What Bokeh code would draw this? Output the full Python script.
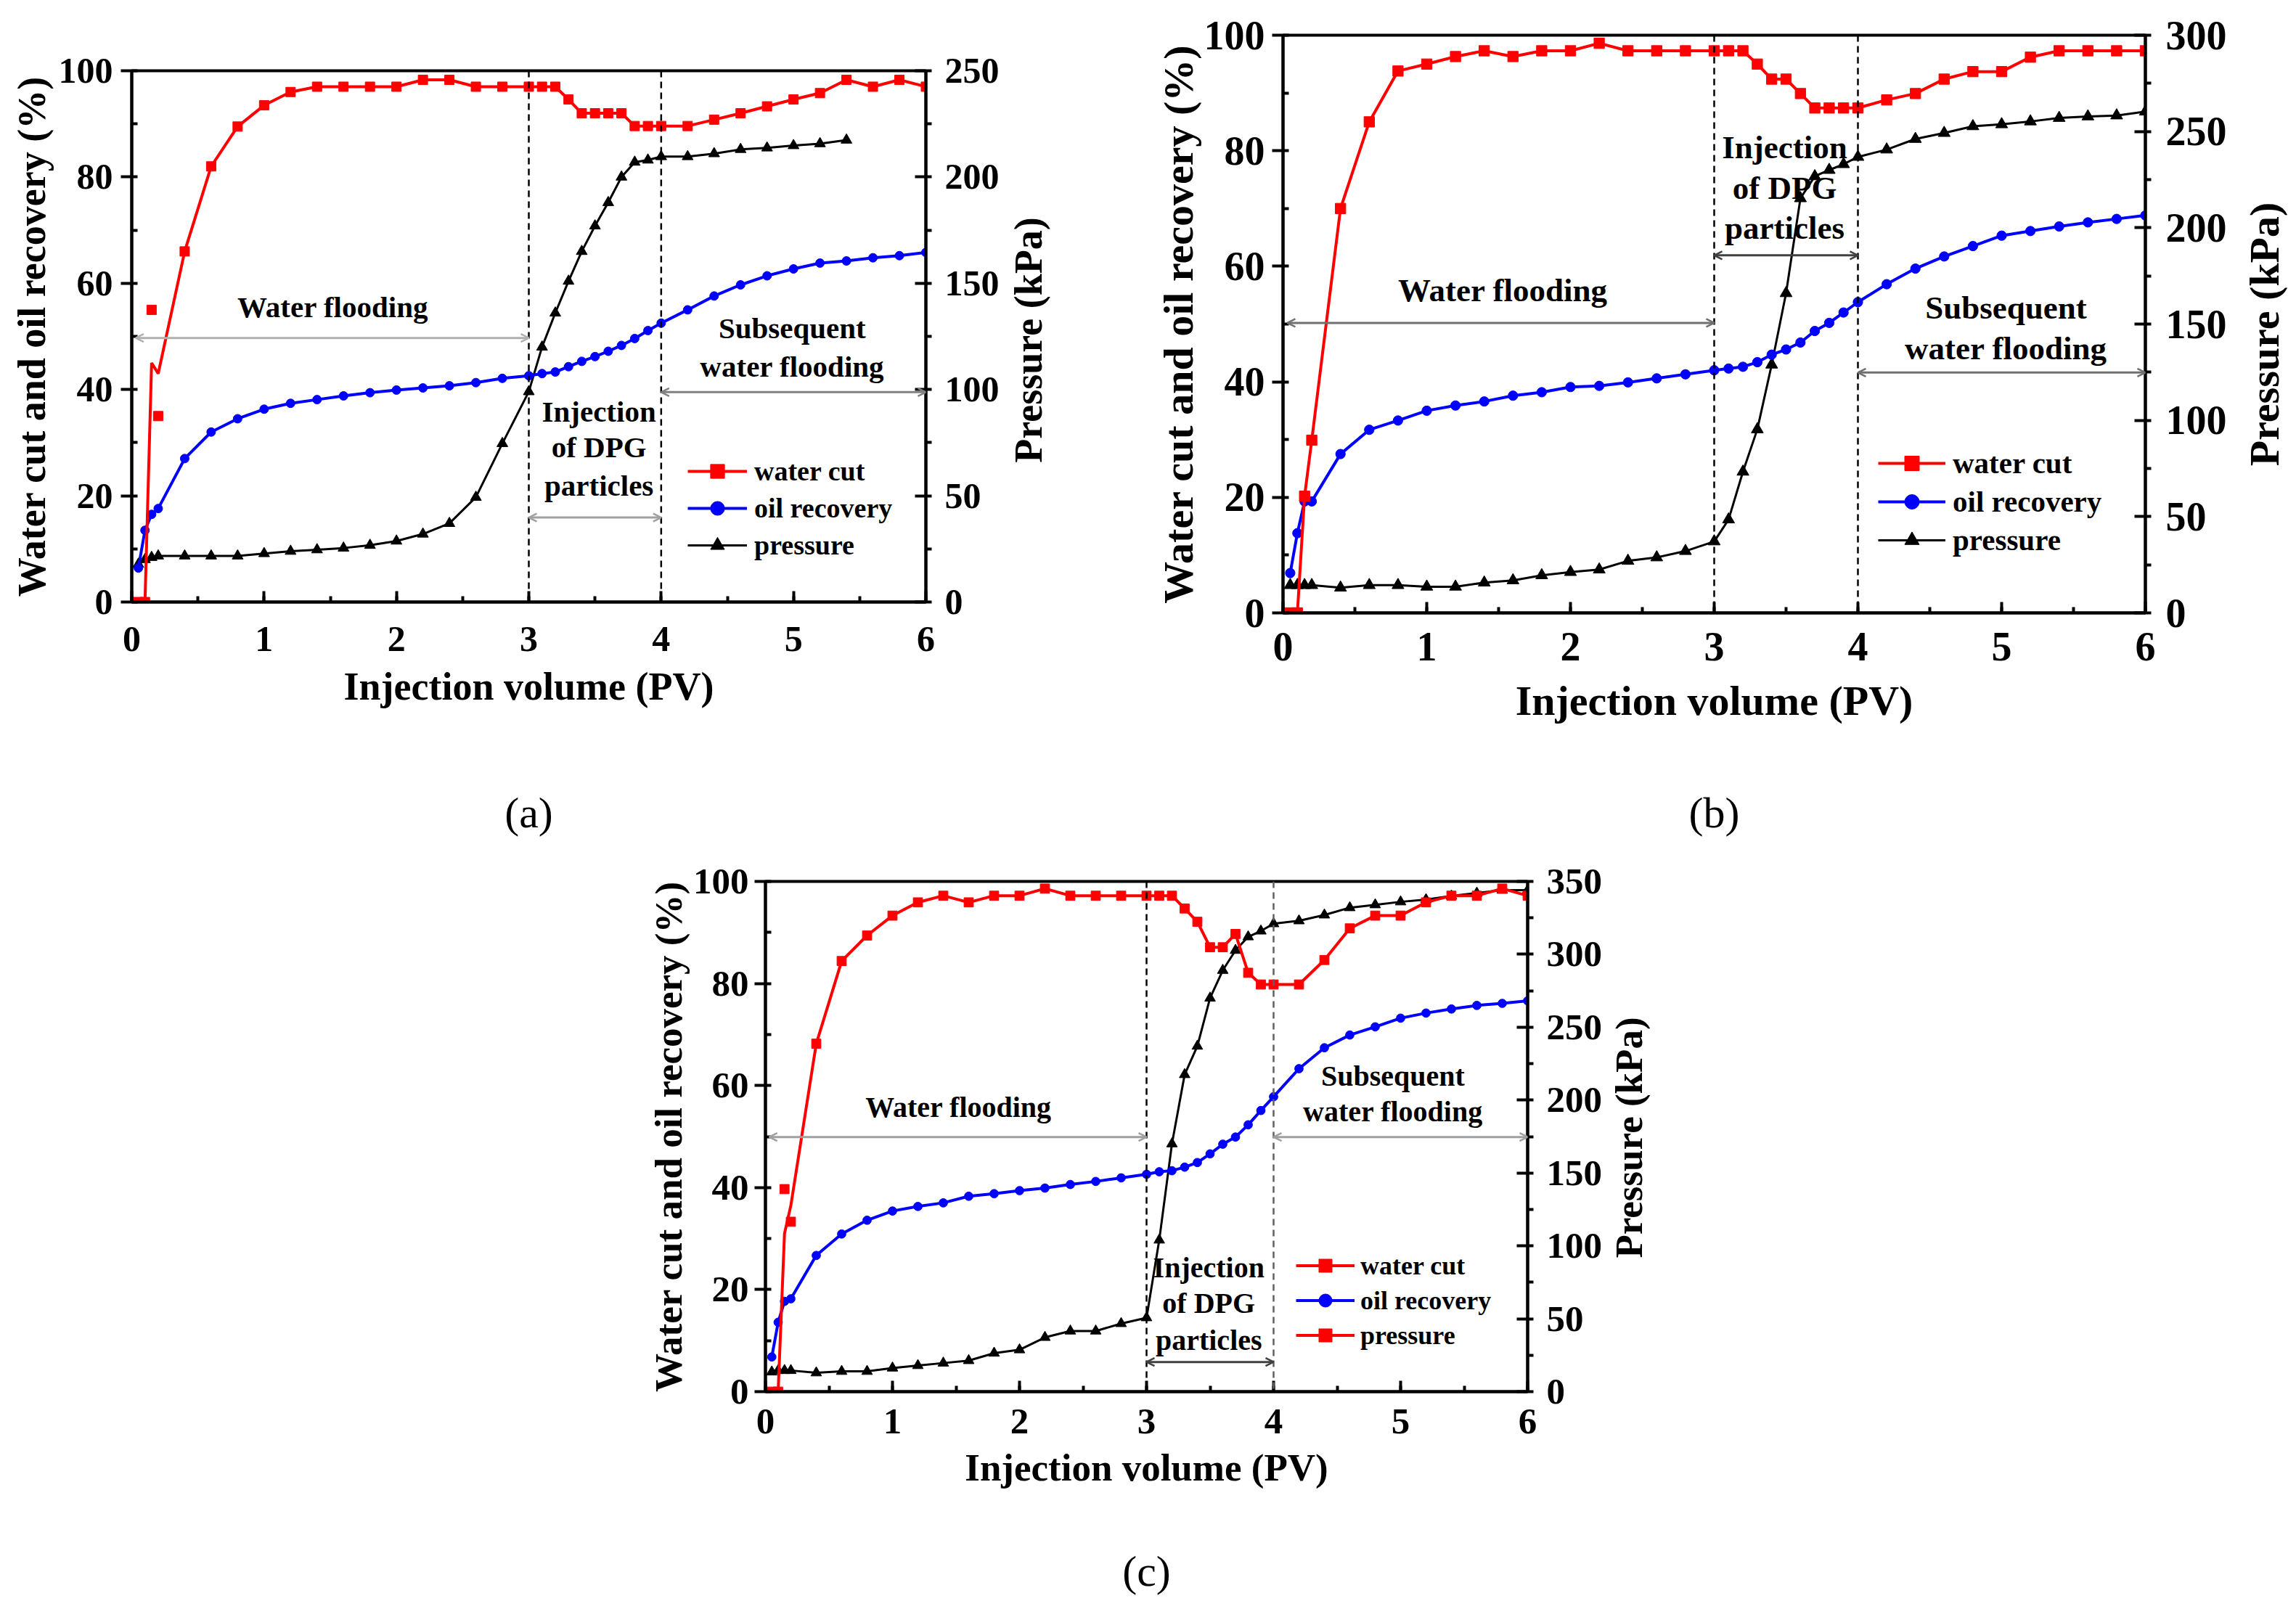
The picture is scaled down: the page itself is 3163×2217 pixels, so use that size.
import math
from bokeh.plotting import figure
from bokeh.models import (Range1d, LinearAxis, SingleIntervalTicker, FixedTicker, Span, Arrow,
                          OpenHead, Label, Legend, LegendItem)
from bokeh.layouts import column, row
from bokeh.embed import file_html
from bokeh.resources import INLINE

FONT = "Liberation Serif"

# ---------------- data ----------------
pv = [0.05, 0.1, 0.15, 0.2, 0.4, 0.6, 0.8, 1.0, 1.2, 1.4, 1.6, 1.8, 2.0, 2.2, 2.4, 2.6, 2.8, 3.0,
      3.1, 3.2, 3.3, 3.4, 3.5, 3.6, 3.7, 3.8, 3.9, 4.0,
      4.2, 4.4, 4.6, 4.8, 5.0, 5.2, 5.4, 5.6, 5.8, 6.0]

# panel (a)
wc_a = [0, 0, 55, 35, 66, 82, 89.5, 93.5, 96, 97, 97, 97, 97, 98.3, 98.3, 97, 97, 97,
        97, 97, 94.6, 92, 92, 92, 92, 89.6, 89.6, 89.6,
        89.6, 90.8, 92, 93.3, 94.6, 95.8, 98.3, 97, 98.3, 97]
wc_a_curve_head = [0, 0, 45, 43]
oil_a = [6.4, 13.5, 16.5, 17.6, 27, 32, 34.5, 36.3, 37.4, 38.1, 38.8, 39.4, 39.9, 40.3, 40.7, 41.3, 42.1, 42.6,
         43, 43.3, 44.3, 45.3, 46.2, 47.2, 48.3, 49.6, 51.1, 52.5,
         55, 57.6, 59.7, 61.4, 62.7, 63.8, 64.2, 64.8, 65.2, 65.8]
prs_a = [17.8, 20, 21, 21.7, 21.7, 21.7, 21.7, 22.8, 23.9, 24.6, 25.4, 26.7, 28.7, 32, 37, 49.3, 74.6, 99,
         120, 136, 151, 165, 177, 188, 200, 207, 208, 209.6,
         209.6, 211, 213, 213.7, 214.8, 215.7, 217.4]

# panel (b)
wc_b = [0, 0, 20.2, 29.9, 70, 85, 93.8, 95, 96.3, 97.3, 96.3, 97.3, 97.3, 98.6, 97.3, 97.3, 97.3, 97.3,
        97.3, 97.3, 95, 92.4, 92.4, 89.9, 87.4, 87.4, 87.4, 87.4,
        88.8, 89.9, 92.4, 93.7, 93.7, 96.2, 97.3, 97.3, 97.3, 97.3]
wc_b_curve_head = [0, 0, 20.2, 29.9]
oil_b = [6.9, 13.8, 19.3, 19.3, 27.5, 31.7, 33.3, 35, 35.9, 36.6, 37.6, 38.2, 39.1, 39.3, 39.9, 40.6, 41.3, 42,
         42.3, 42.6, 43.4, 44.7, 45.6, 46.8, 48.8, 50.2, 52, 53.8,
         56.9, 59.6, 61.7, 63.5, 65.3, 66.1, 66.9, 67.6, 68.2, 68.8]
prs_b = [14.4, 14.4, 14.4, 14.4, 13.1, 14.4, 14.4, 13.6, 13.6, 15.7, 16.9, 19.5, 21.2, 22.5, 27, 28.8, 32.1, 37.1,
         48.5, 73.3, 95.3, 128.9, 166, 215.3, 226.7, 230, 233, 236.8,
         240.6, 246.1, 249.2, 252.7, 253.7, 255.2, 257, 257.8, 258.3, 260.3]

# panel (c)
wc_c = [0, 0, 39.7, 33.3, 68.2, 84.4, 89.4, 93.3, 95.9, 97.2, 95.9, 97.2, 97.2, 98.6, 97.2, 97.2, 97.2, 97.2,
        97.2, 97.2, 94.7, 92.1, 87.1, 87.1, 89.7, 82.1, 79.8, 79.8,
        79.8, 84.6, 90.8, 93.3, 93.3, 95.9, 97.2, 97.2, 98.6, 97.2]
wc_c_curve_head = [0, 0, 31, 36.5]
oil_c = [6.8, 13.6, 17.7, 18.2, 26.7, 30.9, 33.6, 35.4, 36.3, 37, 38.3, 38.8, 39.4, 39.9, 40.6, 41.2, 41.9, 42.6,
         43.1, 43.3, 44, 44.9, 46.6, 48.5, 49.9, 52.3, 55.1, 57.8,
         63.3, 67.4, 69.9, 71.5, 73.2, 74.2, 75, 75.7, 76.1, 76.6]
prs_c = [13.5, 14.5, 14.5, 14.5, 12.9, 13.9, 13.9, 16.2, 17.9, 19.6, 21.3, 26.4, 28.7, 37.2, 41.6, 41.6, 46.7, 50.7,
         104, 170, 217.5, 237, 270, 289, 302.7, 312, 316, 321,
         323, 327, 332, 334, 336, 337.5, 340, 342, 344, 344]

series_names = ["water cut", "oil recovery", "pressure"]
phase_lines = [["Water flooding"], ["Injection", "of DPG", "particles"], ["Subsequent", "water flooding"]]
phase_bounds = [(0.03, 3.0), (3.0, 4.0), (4.0, 6.0)]
stage_marks = [3.0, 4.0]
pressure_max = {"a": 250, "b": 300, "c": 350}
right_title = "Pressure (kPa)"


def style_axis(ax, fs):
    ax.axis_line_width = 4
    ax.axis_line_color = "black"
    ax.major_tick_line_width = 4
    ax.minor_tick_line_width = 4
    ax.major_tick_line_color = "black"
    ax.minor_tick_line_color = "black"
    ax.major_label_text_font = FONT
    ax.major_label_text_font_style = "bold"
    ax.major_label_text_font_size = f"{fs['tick']}px"
    ax.major_label_text_color = "black"
    ax.axis_label_text_font = FONT
    ax.axis_label_text_font_style = "bold"
    ax.axis_label_text_font_size = f"{fs['axis']}px"
    ax.axis_label_text_color = "black"


def build(cfg):
    fs = cfg["fonts"]
    p = figure(frame_width=cfg["fw"], frame_height=cfg["fh"],
               min_border_left=cfg["bl"], min_border_right=cfg["br"],
               min_border_top=cfg["bt"], min_border_bottom=cfg["bb"],
               x_range=Range1d(0, 6), y_range=Range1d(0, 100),
               output_backend="svg", toolbar_location=None)
    if "frame_align" in p.properties():
        p.frame_align = False
    p.extra_y_ranges = {"prs": Range1d(0, cfg["pmax"])}
    p.grid.visible = False
    p.outline_line_color = "black"
    p.outline_line_width = 4
    p.outline_line_alpha = 1.0

    xax = p.below[0]
    yax = p.left[0]
    xax.ticker = SingleIntervalTicker(interval=1, num_minor_ticks=2)
    yax.ticker = SingleIntervalTicker(interval=20, num_minor_ticks=2)
    rax = LinearAxis(y_range_name="prs", ticker=SingleIntervalTicker(interval=50, num_minor_ticks=2))
    p.add_layout(rax, "right")

    for ax in (xax, yax, rax):
        style_axis(ax, fs)

    xax.axis_label = "Injection volume (PV)"
    xax.major_tick_in, xax.major_tick_out = 15, 0
    xax.minor_tick_in, xax.minor_tick_out = 8, 0
    xax.major_label_standoff = cfg["xstand"]
    xax.axis_label_standoff = cfg["xlstand"]

    yax.axis_label = "Water cut and oil recovery (%)"
    yax.major_tick_in, yax.major_tick_out = 0, 15
    yax.minor_tick_in, yax.minor_tick_out = 8, 0
    yax.major_label_standoff = cfg["ystand"]
    yax.axis_label_standoff = cfg["ylstand"]

    rax.major_tick_in, rax.major_tick_out = 15, 0
    rax.minor_tick_in, rax.minor_tick_out = 0, 8
    rax.major_label_standoff = cfg["rstand"]

    # panel tag shown as the title of an extra, tick-less bottom axis
    tag_ax = LinearAxis(ticker=FixedTicker(ticks=[]), axis_label=cfg["tag"])
    style_axis(tag_ax, fs)
    tag_ax.axis_line_alpha = 0
    tag_ax.major_tick_in = tag_ax.major_tick_out = 0
    tag_ax.minor_tick_in = tag_ax.minor_tick_out = 0
    tag_ax.major_label_standoff = 0
    tag_ax.axis_label_text_font_style = "normal"
    tag_ax.axis_label_text_font_size = f"{fs['tag']}px"
    tag_ax.axis_label_standoff = cfg["tagstand"]
    p.add_layout(tag_ax, "below")

    # series
    wc, oil, prs = cfg["wc"], cfg["oil"], cfg["prs"]
    wc_curve = cfg["wc_head"] + wc[len(cfg["wc_head"]):]
    px = pv[:len(prs)]
    sc = cfg["msize"]
    l3 = p.line(px, prs, line_color="black", line_width=3, y_range_name="prs")
    s3 = p.scatter(px, prs, marker="triangle", size=15 * sc, color="black", y_range_name="prs")
    l2 = p.line(pv, oil, line_color="blue", line_width=4)
    s2 = p.scatter(pv, oil, marker="circle", size=12 * sc, color="blue")
    l1 = p.line(pv, wc_curve, line_color="red", line_width=4)
    s1 = p.scatter(pv, wc, marker="square", size=13 * sc, color="red")

    # panel (c) of the source shows the pressure key drawn in red squares
    key3 = [l1, s1] if cfg.get("red_pressure_key") else [l3, s3]

    leg = Legend(items=[LegendItem(label=series_names[0], renderers=[l1, s1]),
                        LegendItem(label=series_names[1], renderers=[l2, s2]),
                        LegendItem(label=series_names[2], renderers=key3)],
                 location=cfg["leg_loc"], orientation="vertical",
                 glyph_width=cfg["leg_gw"], glyph_height=cfg["leg_gh"],
                 label_height=cfg["leg_gh"], label_standoff=cfg["leg_st"],
                 spacing=3, padding=0, margin=0,
                 border_line_alpha=0, background_fill_alpha=0,
                 label_text_font=FONT, label_text_font_style="bold",
                 label_text_font_size=f"{fs['legend']}px", label_text_color="black")
    p.add_layout(leg, "center")

    # stage boundaries
    for i, xm in enumerate(stage_marks):
        p.add_layout(Span(location=xm, dimension="height", line_color=cfg["span_colors"][i],
                          line_width=2.5, line_dash="9 6"))

    # stage arrows and notes
    for k, (x0, x1) in enumerate(phase_bounds):
        ya = cfg["arrow_y"][k]
        acol = cfg["arrow_colors"][k]
        p.add_layout(Arrow(x_start=x0, y_start=ya, x_end=x1, y_end=ya,
                           line_color=acol, line_width=3,
                           start=OpenHead(size=11, line_color=acol, line_width=2.5),
                           end=OpenHead(size=11, line_color=acol, line_width=2.5)))
        tx = cfg["note_x"][k]
        for line_txt, ty in zip(phase_lines[k], cfg["note_y"][k]):
            p.add_layout(Label(x=tx, y=ty, text=line_txt, text_align="center",
                               text_baseline="middle", text_font=FONT,
                               text_font_style="bold", text_font_size=f"{fs['note']}px",
                               text_color="black"))
    return p


def title_strip(w, h, cx, cy, size):
    """Narrow blank figure that carries the rotated right-axis title (reads bottom to top)."""
    s = figure(frame_width=w, frame_height=h, x_range=Range1d(0, w), y_range=Range1d(0, h),
               min_border=0, x_axis_type=None, y_axis_type=None, title=None,
               output_backend="svg", toolbar_location=None)
    if "frame_align" in s.properties():
        s.frame_align = False
    s.grid.visible = False
    s.outline_line_color = None
    s.add_layout(Label(x=cx, y=cy, text=right_title, angle=math.pi / 2,
                       text_align="center", text_baseline="middle", text_font=FONT,
                       text_font_style="bold", text_font_size=f"{size}px", text_color="black"))
    return s


cfg_a = dict(fw=1094, fh=732, bl=181, br=110, bt=97, bb=343, pmax=pressure_max["a"],
             fonts=dict(tick=50, axis=54, note=41, legend=38, tag=60), msize=1.0,
             wc=wc_a, wc_head=wc_a_curve_head, oil=oil_a, prs=prs_a,
             xstand=34, xlstand=16, ystand=11, ylstand=4, rstand=18, tagstand=108,
             leg_loc=(766, 54), leg_gw=82, leg_gh=48, leg_st=10,
             span_colors=["black", "black"],
             arrow_colors=["#b0b0b0", "#a0a0a0", "#808080"],
             arrow_y=[49.7, 15.9, 39.5],
             note_x=[1.52, 3.53, 4.99], note_y=[[55.5], [35.9, 29.1, 21.9], [51.6, 44.3]],
             tag="(a)")

cfg_b = dict(fw=1188, fh=796, bl=275, br=110, bt=48, bb=328, pmax=pressure_max["b"],
             fonts=dict(tick=56, axis=58, note=45, legend=41, tag=60), msize=1.1,
             wc=wc_b, wc_head=wc_b_curve_head, oil=oil_b, prs=prs_b,
             xstand=27, xlstand=20, ystand=10, ylstand=0, rstand=20, tagstand=86,
             leg_loc=(820, 75), leg_gw=93, leg_gh=50, leg_st=10,
             span_colors=["black", "black"],
             arrow_colors=["#707070", "#404040", "#707070"],
             arrow_y=[50.2, 61.9, 41.6],
             note_x=[1.53, 3.49, 5.03], note_y=[[55.8], [80.6, 73.6, 66.6], [52.8, 45.8]],
             tag="(b)")

cfg_c = dict(fw=1050, fh=703, bl=1054, br=100, bt=42, bb=284, pmax=pressure_max["c"],
             fonts=dict(tick=51, axis=53, note=40, legend=36, tag=60), msize=0.98,
             wc=wc_c, wc_head=wc_c_curve_head, oil=oil_c, prs=prs_c,
             xstand=24, xlstand=15, ystand=8, ylstand=2, rstand=18, tagstand=78,
             leg_loc=(731, 55), leg_gw=81, leg_gh=45, leg_st=8,
             span_colors=["black", "#606060"],
             arrow_colors=["#a0a0a0", "#404040", "#a0a0a0"],
             arrow_y=[49.9, 5.8, 49.9],
             note_x=[1.52, 3.49, 4.94], note_y=[[55.8], [24.3, 17.4, 10.1], [61.9, 54.9]],
             tag="(c)", red_pressure_key=True)

pa = build(cfg_a)
pb = build(cfg_b)
pc = build(cfg_c)

ta = title_strip(107, 1172, 31, 704, 54)
tb = title_strip(82, 1172, 49, 712, 58)
tc = title_strip(80, 1029, 33, 634, 53)

layout = column(row(pa, ta, pb, tb), row(pc, tc))
open("out.html", "w").write(file_html(layout, INLINE))
